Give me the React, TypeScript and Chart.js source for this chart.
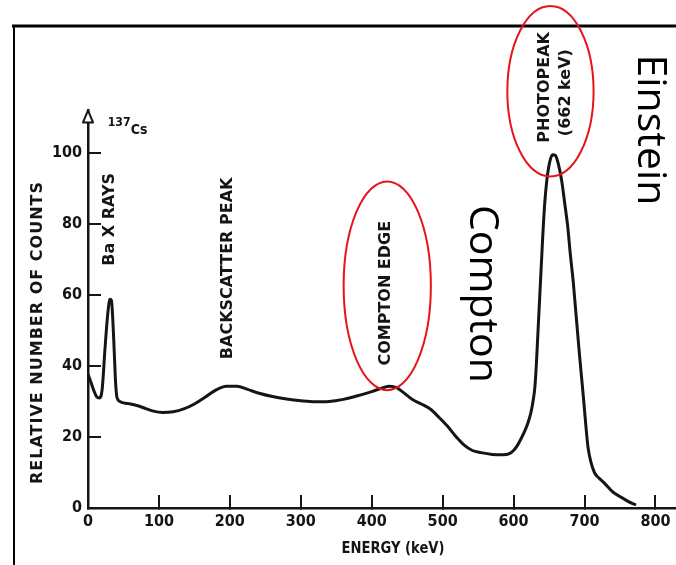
import React, { useEffect, useRef } from 'react';
import { Chart, registerables } from 'chart.js';

Chart.register(...registerables);

// ---- data ----
const energyKeV = [
  0, 4, 8, 12, 16, 20, 24, 28, 31, 33, 35, 37, 39, 41, 45, 50, 60, 70, 80, 92,
  105, 120, 135, 150, 165, 180, 195, 210, 225, 240, 260, 280, 300, 320, 340, 360,
  380, 400, 415, 425, 435, 445, 458, 470, 483, 495, 507, 518, 530, 542, 554, 570,
  585, 594, 600, 605, 610, 616, 620, 624, 627, 630, 632, 634, 636, 638, 641, 644, 647,
  651, 655, 659, 663, 668, 672, 676.5, 680, 684, 687, 690, 693, 696, 699, 702, 705,
  709, 714, 720, 728, 740, 752, 762, 771,
];
const relativeCounts = [
  37.7, 35.5, 33.2, 31.4, 31, 33.5, 45, 55, 58.8, 58.5, 53, 44, 35, 31, 30, 29.6, 29.3, 28.8, 28.1, 27.3,
  26.9, 27.1, 27.9, 29.3, 31.2, 33.2, 34.3, 34.3, 33.4, 32.4, 31.4, 30.7, 30.2, 29.9, 30, 30.6,
  31.6, 32.8, 33.8, 34.3, 33.9, 32.5, 30.5, 29.3, 27.8, 25.5, 23, 20.3, 17.8, 16.2, 15.6, 15.1,
  15, 15.3, 16.2, 17.5, 19.3, 21.8, 23.8, 26.5, 29.5, 34, 40, 48, 56, 64, 76, 86, 92.5,
  97.5, 99.5, 99.3, 97, 92, 86, 79, 71.5, 64, 57, 50, 43, 36.5, 30, 23, 17,
  13, 10, 8.5, 7, 4.5, 3, 1.8, 1,
];
const xTickValues = [0, 100, 200, 300, 400, 500, 600, 700, 800];
const yTickValues = [0, 20, 40, 60, 80, 100];
const xAxisTitle = 'ENERGY (keV)';
const yAxisTitle = 'RELATIVE NUMBER OF COUNTS';

// annotation labels anchored in data coordinates (keV, counts)
const peakLabels = ['Ba X RAYS', 'BACKSCATTER PEAK', 'COMPTON EDGE', 'PHOTOPEAK', '(662 keV)'];
const peakLabelKeV = [31, 196.5, 419.5, 644, 673.5];
const peakLabelCounts = [81.3, 67.5, 60.5, 118.5, 117];

const bigLabels = ['Compton', 'Einstein'];
const bigLabelKeV = [539, 775];
const bigLabelCounts = [60.3, 106.5];

const ellipseKeV = [652, 421.9];
const ellipseCounts = [117.4, 62.6];
const ellipseRadiusKeV = [60.8, 61.5];
const ellipseRadiusCounts = [24, 29.4];

const INK = '#151515';
const LETTER = 'DejaVu Sans';
const TICK_FAMILY = "'DejaVu Sans Condensed', 'DejaVu Sans'";

function drawText(
  ctx: CanvasRenderingContext2D,
  text: string,
  x: number,
  y: number,
  rot: number,
  font: string,
  spacing: number,
  squeeze = 1,
  baseline: CanvasTextBaseline = 'middle',
  color = INK
) {
  ctx.save();
  ctx.translate(x, y);
  ctx.rotate(rot);
  ctx.scale(squeeze, 1);
  ctx.font = font;
  (ctx as any).letterSpacing = spacing + 'px';
  ctx.fillStyle = color;
  ctx.textAlign = 'center';
  ctx.textBaseline = baseline;
  ctx.fillText(text, spacing / 2, 0);
  ctx.restore();
}

const decorPlugin = {
  id: 'decor',
  afterDraw(chart: any) {
    const { ctx, chartArea, scales } = chart;
    const xs = scales.x;
    const ys = scales.y;
    const px = (v: number) => xs.getPixelForValue(v);
    const py = (v: number) => ys.getPixelForValue(v);

    // frame of the slide
    ctx.save();
    ctx.strokeStyle = '#000';
    ctx.lineWidth = 3;
    ctx.beginPath();
    ctx.moveTo(12, 26);
    ctx.lineTo(676, 26);
    ctx.stroke();
    ctx.lineWidth = 2;
    ctx.beginPath();
    ctx.moveTo(14, 26);
    ctx.lineTo(14, 565);
    ctx.stroke();
    ctx.restore();

    // arrow head at top of y axis
    const ax = chartArea.left;
    const at = chartArea.top;
    ctx.save();
    ctx.beginPath();
    ctx.moveTo(ax, at);
    ctx.lineTo(ax - 5, at + 12);
    ctx.lineTo(ax + 5, at + 12);
    ctx.closePath();
    ctx.fillStyle = '#fff';
    ctx.fill();
    ctx.strokeStyle = INK;
    ctx.lineWidth = 2;
    ctx.lineJoin = 'round';
    ctx.stroke();
    ctx.restore();

    // axis titles
    drawText(ctx, yAxisTitle, 38, 333, -Math.PI / 2, `bold 16px "${LETTER}"`, 1);
    drawText(ctx, xAxisTitle, 393, 549, 0, `bold 16px "${LETTER}"`, 0, 0.82);

    // isotope
    drawText(ctx, '137', px(44), py(108.5), 0, `bold 13px "${LETTER}"`, 0, 0.85);
    drawText(ctx, 'Cs', px(72), py(106.5), 0, `bold 14px "${LETTER}"`, 0, 0.9);

    // peak labels
    peakLabels.forEach((t, i) => {
      drawText(ctx, t, px(peakLabelKeV[i]), py(peakLabelCounts[i]), -Math.PI / 2, `bold 16px "${LETTER}"`, 0);
    });

    // big slide labels (rotated clockwise)
    bigLabels.forEach((t, i) => {
      drawText(ctx, t, px(bigLabelKeV[i]), py(bigLabelCounts[i]), Math.PI / 2, `41px "Open Sans"`, 0, 1, 'alphabetic', '#000');
    });

    // red ellipses
    ctx.save();
    ctx.strokeStyle = '#e8141c';
    ctx.lineWidth = 2;
    ellipseKeV.forEach((k, i) => {
      const cx = px(k);
      const cy = py(ellipseCounts[i]);
      const rx = px(k + ellipseRadiusKeV[i]) - cx;
      const ry = cy - py(ellipseCounts[i] + ellipseRadiusCounts[i]);
      ctx.beginPath();
      ctx.ellipse(cx, cy, rx, ry, 0, 0, Math.PI * 2);
      ctx.stroke();
    });
    ctx.restore();
  },
};

export default function App() {
  const ref = useRef<HTMLCanvasElement>(null);

  useEffect(() => {
    if (!ref.current) return;
    const tickFont = { family: TICK_FAMILY, size: 16, weight: 'bold' as const };
    const chart = new Chart(ref.current, {
      type: 'line',
      data: {
        datasets: [
          {
            data: energyKeV.map((e, i) => ({ x: e, y: relativeCounts[i] })),
            borderColor: INK,
            borderWidth: 3,
            pointRadius: 0,
            fill: false,
            cubicInterpolationMode: 'monotone',
            borderCapStyle: 'round',
            borderJoinStyle: 'round',
          },
        ],
      },
      options: {
        animation: false,
        responsive: false,
        devicePixelRatio: 1,
        layout: { padding: { top: 110.4, left: 0, right: 0, bottom: 0 } },
        plugins: { legend: { display: false }, tooltip: { enabled: false } },
        scales: {
          x: {
            type: 'linear',
            min: 0,
            max: 829,
            afterBuildTicks: (s: any) => {
              s.ticks = xTickValues.map((v) => ({ value: v }));
            },
            afterFit: (s: any) => {
              s.height = 57;
              s.paddingLeft = 0;
              s.paddingRight = 0;
            },
            border: { display: true, color: INK, width: 2.5 },
            grid: { drawOnChartArea: false, drawTicks: true, tickLength: -13, color: INK, lineWidth: 2 },
            ticks: { padding: 17, color: INK, font: tickFont, maxRotation: 0, autoSkip: false },
          },
          y: {
            type: 'linear',
            min: 0,
            max: 112,
            afterBuildTicks: (s: any) => {
              s.ticks = yTickValues.map((v) => ({ value: v }));
            },
            afterFit: (s: any) => {
              s.width = 88;
              s.paddingTop = 0;
              s.paddingBottom = 0;
            },
            border: { display: true, color: INK, width: 2.5 },
            grid: { drawOnChartArea: false, drawTicks: true, tickLength: -13, color: INK, lineWidth: 2 },
            ticks: { padding: 19, color: INK, font: tickFont, autoSkip: false },
          },
        },
      },
      plugins: [decorPlugin],
    });
    return () => chart.destroy();
  }, []);

  return (
    <div style={{ position: 'absolute', left: 0, top: 0, width: 676, height: 565, background: '#fff' }}>
      <canvas ref={ref} width={676} height={565} style={{ display: 'block' }} />
    </div>
  );
}
